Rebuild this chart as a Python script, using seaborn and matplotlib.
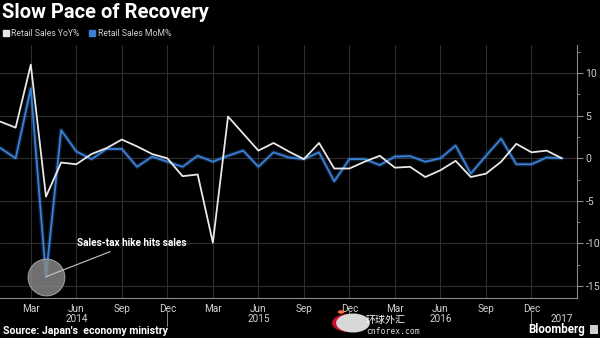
import matplotlib
matplotlib.use('Agg')
import matplotlib.pyplot as plt
import matplotlib.transforms as mtransforms
from matplotlib.lines import Line2D
from matplotlib.patches import Circle, Rectangle
import seaborn as sns
import pandas as pd
import numpy as np

# ---- data ----
start_month = '2014-01-01'
yoy = [4.3, 3.6, 11.0, -4.5, -0.5, -0.7, 0.5, 1.2, 2.2, 1.4, 0.5, 0.0,
       -2.1, -1.9, -9.9, 4.9, 2.9, 0.9, 1.8, 0.8, -0.1, 1.8, -1.2, -1.2,
       -0.4, 0.3, -1.1, -1.0, -2.2, -1.4, -0.3, -2.2, -1.8, -0.4, 1.7, 0.7,
       0.9, 0.0]
mom = [1.2, 0.0, 8.2, -13.9, 3.3, 0.8, -0.1, 1.1, 1.1, -1.0, 0.2, -0.4,
       -1.0, 0.3, -0.4, 0.3, 0.9, -1.0, 0.7, 0.1, -0.1, 0.7, -2.7, -0.1,
       -0.1, -0.8, 0.2, 0.25, -0.4, 0.0, 1.5, -1.8, 0.3, 2.3, -0.7, -0.7,
       0.1, 0.0]
series_names = ['Retail Sales YoY%', 'Retail Sales MoM%']
tick_month_names = ['Mar', 'Jun', 'Sep', 'Dec']
year_labels = ['2014', '2015', '2016', '2017']
y_ticks = [10, 5, 0, -5, -10, -15]
title = 'Slow Pace of Recovery'
annotation = 'Sales-tax hike hits sales'
source = "Source: Japan's  economy ministry"

dates = pd.date_range(start_month, periods=len(yoy), freq='MS')
df = pd.DataFrame({'i': np.arange(len(yoy)), 'date': dates, 'YoY': yoy, 'MoM': mom})

WHITE = '#e8e8e8'
BLUE = '#3a80d6'
GRID = '#2e2e2e'
AXC = '#8a8a8a'
TXT = '#d0d0d0'

sns.set_style('dark')
plt.rcParams['font.family'] = ['Roboto', 'DejaVu Sans']

fig = plt.figure(figsize=(6, 3.38), dpi=100, facecolor='black')
ax = fig.add_axes([0.0, 1 - 298 / 338, 577 / 600, (298 - 45) / 338])
ax.set_facecolor('black')

# lines
sns.lineplot(data=df, x='i', y='MoM', color=BLUE, lw=3.2, alpha=0.25, ax=ax, zorder=3)
sns.lineplot(data=df, x='i', y='MoM', color=BLUE, lw=1.3, ax=ax, zorder=4)
sns.lineplot(data=df, x='i', y='YoY', color=WHITE, lw=1.3, ax=ax, zorder=5)

# axes ranges
ax.set_xlim(-0.03, 38.0)
ax.set_ylim(-16.4, 13.3)

# x ticks
quarter_idx = [k for k, d in enumerate(dates) if d.strftime('%b') in tick_month_names]
ax.set_xticks(quarter_idx)
ax.set_xticklabels([dates[k].strftime('%b') for k in quarter_idx])
ax.set_xticks(df['i'], minor=True)

# y ticks on right
ax.yaxis.tick_right()
ax.set_yticks(y_ticks)
ax.set_yticklabels([str(v) for v in y_ticks])
ax.set_yticks(np.arange(-15, 13.3, 2.5), minor=True)

ax.tick_params(axis='x', which='major', direction='out', length=3, width=0.8,
               color=AXC, labelcolor=TXT, labelsize=7.2, pad=1)
ax.tick_params(axis='x', which='minor', direction='out', length=2, width=0.6, color=AXC)
ax.tick_params(axis='y', which='major', direction='out', length=4, width=0.8,
               color=AXC, labelcolor=TXT, labelsize=7.5, pad=2)
ax.tick_params(axis='y', which='minor', direction='out', length=2, width=0.6, color=AXC)

ax.grid(True, which='major', color=GRID, lw=0.8)
ax.set_axisbelow(True)
for s in ['left', 'top']:
    ax.spines[s].set_visible(False)
for s in ['right', 'bottom']:
    ax.spines[s].set_visible(True)
    ax.spines[s].set_color(AXC)
    ax.spines[s].set_linewidth(0.8)
ax.set_xlabel('')
ax.set_ylabel('')

# year labels and separators
trans = mtransforms.blended_transform_factory(ax.transData, ax.transAxes)
for y in year_labels:
    idx = [k for k, d in enumerate(dates) if str(d.year) == y]
    if y == year_labels[-1]:
        pos = np.mean(idx) + 0.5
    else:
        pos = idx[0] + 5
    ax.text(pos, -0.082, y, transform=trans, ha='center', va='center',
            color=TXT, fontsize=7.2)
    if y != year_labels[-1]:
        sep = idx[-1]
        ax.plot([sep, sep], [-0.055, -0.112], transform=trans, color=AXC,
                lw=0.7, clip_on=False)

# annotation circle on the MoM trough
trough = int(np.argmin(mom))
ax.scatter([trough], [mom[trough]], s=700, color='#8c8c8c', alpha=0.8,
           edgecolors='#b0b0b0', linewidths=0.8, zorder=6)
ax.annotate(annotation, xy=(trough, mom[trough]), xytext=(22, 24),
            textcoords='offset points', color='white', fontsize=7.2,
            fontweight='bold', va='center', ha='left',
            arrowprops=dict(arrowstyle='-', color='#c8c8c8', lw=0.8,
                            shrinkA=0, shrinkB=0), zorder=7)

# title & legend
fig.text(0.003, 0.962, title, color='white', fontsize=14.5, fontweight='bold',
         ha='left', va='center')
handles = [Line2D([], [], marker='s', ls='none', color=c, markersize=4.5)
           for c in [WHITE, BLUE]]
fig.legend(handles, series_names, loc='center left', bbox_to_anchor=(0.0, 0.9),
           ncol=2, frameon=False, fontsize=6.2, labelcolor=TXT,
           handletextpad=0.1, columnspacing=1.0, handlelength=1.0,
           borderaxespad=0, borderpad=0.2)

# footer
fig.text(0.005, 1 - 331 / 338, source, color='white', fontsize=7.6,
         fontweight='bold', ha='left', va='center')
fig.text(1 - 15 / 600, 1 - 329 / 338, 'Bloomberg', color='white', fontsize=8.3,
         fontweight='bold', ha='right', va='center')
fig.patches.append(Rectangle((590 / 600, 1 - 334 / 338), 8 / 600, 9 / 338,
                             transform=fig.transFigure, facecolor='#cfcfcf',
                             edgecolor='none'))

# watermark
fig.patches.append(Circle((348 / 600, 1 - 323 / 338), 9 / 338,
                          transform=fig.transFigure, facecolor='#c8102e',
                          edgecolor='none', zorder=10))
fig.patches.append(Circle((353 / 600, 1 - 323 / 338), 9.5 / 338,
                          transform=fig.transFigure, facecolor='#d8d8d8',
                          edgecolor='none', zorder=11))
fig.patches.append(Circle((341 / 600, 1 - 312 / 338), 1.8 / 338,
                          transform=fig.transFigure, facecolor='#ff6a3a',
                          edgecolor='none', zorder=11))
fig.text(366 / 600, 1 - 319.5 / 338, '环球外汇', color='white', fontsize=7.2,
         family=['Noto Sans CJK SC', 'DejaVu Sans'], ha='left', va='center', zorder=12)
fig.text(366 / 600, 1 - 331 / 338, 'cnforex.com', color='#dddddd', fontsize=5.8,
         family=['DejaVu Sans Mono', 'DejaVu Sans'], ha='left', va='center', zorder=12)

fig.savefig('out.png', dpi=100, facecolor='black')
